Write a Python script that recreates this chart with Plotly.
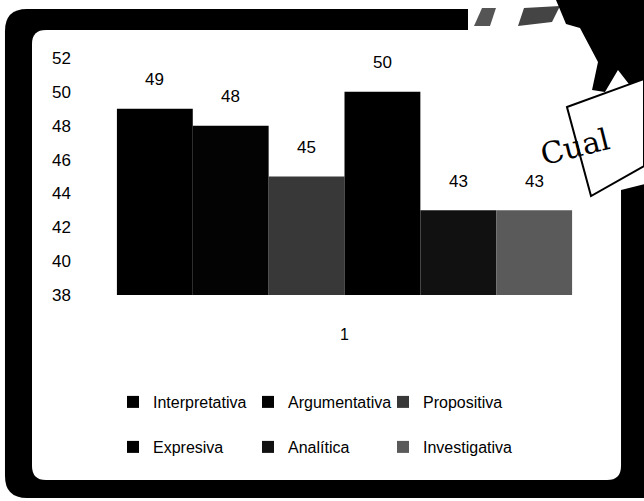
import plotly.graph_objects as go

# Series shown in the chart (one category, six competences)
category = ["1"]
series_names = ["Interpretativa", "Argumentativa", "Propositiva",
                "Expresiva", "Analítica", "Investigativa"]
series_values = [49, 48, 45, 50, 43, 43]
y_ticks = [38, 40, 42, 44, 46, 48, 50, 52]

colors = ["#000000", "#030303", "#383838", "#000000", "#111111", "#5a5a5a"]

W, H = 644, 501
ML, MR, MT, MB = 78, 33, 58, 206
PW, PH = W - ML - MR, H - MT - MB
BARGAP = 0.146
FONT = "Liberation Sans, Arial, sans-serif"


def fx(x):
    return (x - ML) / PW


def fy(y):
    return (H - MB - y) / PH


def path(points, close=True):
    s = "M " + " L ".join(f"{fx(x):.4f},{fy(y):.4f}" for x, y in points)
    return s + (" Z" if close else "")


def rrect(x0, y0, x1, y1, r):
    # rounded rectangle path in pixel space
    pts = [
        ("M", x0 + r, y0), ("L", x1 - r, y0), ("Q", x1, y0, x1, y0 + r),
        ("L", x1, y1 - r), ("Q", x1, y1, x1 - r, y1), ("L", x0 + r, y1),
        ("Q", x0, y1, x0, y1 - r), ("L", x0, y0 + r), ("Q", x0, y0, x0 + r, y0),
    ]
    out = []
    for p in pts:
        if p[0] == "Q":
            out.append(f"Q {fx(p[1]):.4f},{fy(p[2]):.4f} {fx(p[3]):.4f},{fy(p[4]):.4f}")
        else:
            out.append(f"{p[0]} {fx(p[1]):.4f},{fy(p[2]):.4f}")
    return " ".join(out) + " Z"


fig = go.Figure()

for i, (name, val) in enumerate(zip(series_names, series_values)):
    fig.add_trace(go.Bar(
        x=category, y=[val], name=name,
        marker=dict(color=colors[i], line=dict(width=0)),
        legend="legend" if i < 3 else "legend2",
        hoverinfo="skip",
    ))

# value labels above each bar
n = len(series_values)
bw = (1 - BARGAP) / n
for i, val in enumerate(series_values):
    fig.add_annotation(
        x=-(1 - BARGAP) / 2 + (i + 0.5) * bw, y=val, xref="x", yref="y",
        text=str(val), showarrow=False, yanchor="middle", yshift=29,
        font=dict(family=FONT, size=17, color="#000"),
    )

# handwritten note text
fig.add_annotation(
    x=fx(616), y=fy(146), xref="paper", yref="paper", text="Cual",
    showarrow=False, textangle=-14,
    font=dict(family="DejaVu Serif", size=30, color="#000"),
)

shapes = []
# photocopied frame: dark border with a rounded white panel inside
shapes.append(dict(type="path", path=rrect(5, 9, 680, 498, 22),
                   fillcolor="#000", line=dict(width=0)))
shapes.append(dict(type="path", path=rrect(32, 30, 621, 480, 14),
                   fillcolor="#fff", line=dict(width=0)))
# washed-out top-right corner of the frame
shapes.append(dict(type="path",
                   path=path([(468, 0), (700, 0), (700, 170), (621, 190), (621, 30), (468, 30)]),
                   fillcolor="#fff", line=dict(width=0)))
shapes.append(dict(type="path", path=path([(474, 26), (482, 8), (496, 8), (490, 26)]),
                   fillcolor="#555", line=dict(width=0)))
shapes.append(dict(type="path", path=path([(518, 26), (524, 8), (560, 6), (552, 22)]),
                   fillcolor="#444", line=dict(width=0)))
# dark blob above the note
shapes.append(dict(type="path",
                   path=path([(556, 0), (644, 0), (644, 82), (632, 88), (618, 70),
                              (605, 92), (592, 90), (598, 62), (580, 28), (566, 24)]),
                   fillcolor="#000", line=dict(width=0)))
shapes.append(dict(type="path", path=path([(628, 90), (644, 84), (644, 120), (636, 116)]),
                   fillcolor="#000", line=dict(width=0)))
# sticky note
shapes.append(dict(type="path",
                   path=path([(567, 107), (644, 79), (644, 166), (591, 196)]),
                   fillcolor="#fff", line=dict(color="#000", width=2)))

legend_style = dict(orientation="h", xanchor="left", yanchor="middle",
                    entrywidth=90, entrywidthmode="pixels", bgcolor="rgba(0,0,0,0)",
                    font=dict(family=FONT, size=16, color="#000"), itemclick=False)

fig.update_layout(
    width=W, height=H,
    margin=dict(l=ML, r=MR, t=MT, b=MB, pad=0),
    paper_bgcolor="#fff", plot_bgcolor="rgba(0,0,0,0)",
    barmode="group", bargap=BARGAP, bargroupgap=0,
    shapes=[dict(s, xref="paper", yref="paper", layer="below") for s in shapes],
    font=dict(family=FONT, size=17, color="#000"),
    showlegend=True,
    legend=dict(legend_style, x=fx(113), y=fy(402)),
    legend2=dict(legend_style, x=fx(113), y=fy(447)),
    xaxis=dict(type="category", showgrid=False, showline=False, zeroline=False,
               ticks="", ticklabelstandoff=28,
               tickfont=dict(family=FONT, size=16, color="#000")),
    yaxis=dict(range=[38, 52], tickvals=y_ticks, showgrid=False, showline=False,
               zeroline=False, ticks="", ticklabelstandoff=6,
               tickfont=dict(family=FONT, size=17, color="#000")),
)

fig.write_html("out.html")
